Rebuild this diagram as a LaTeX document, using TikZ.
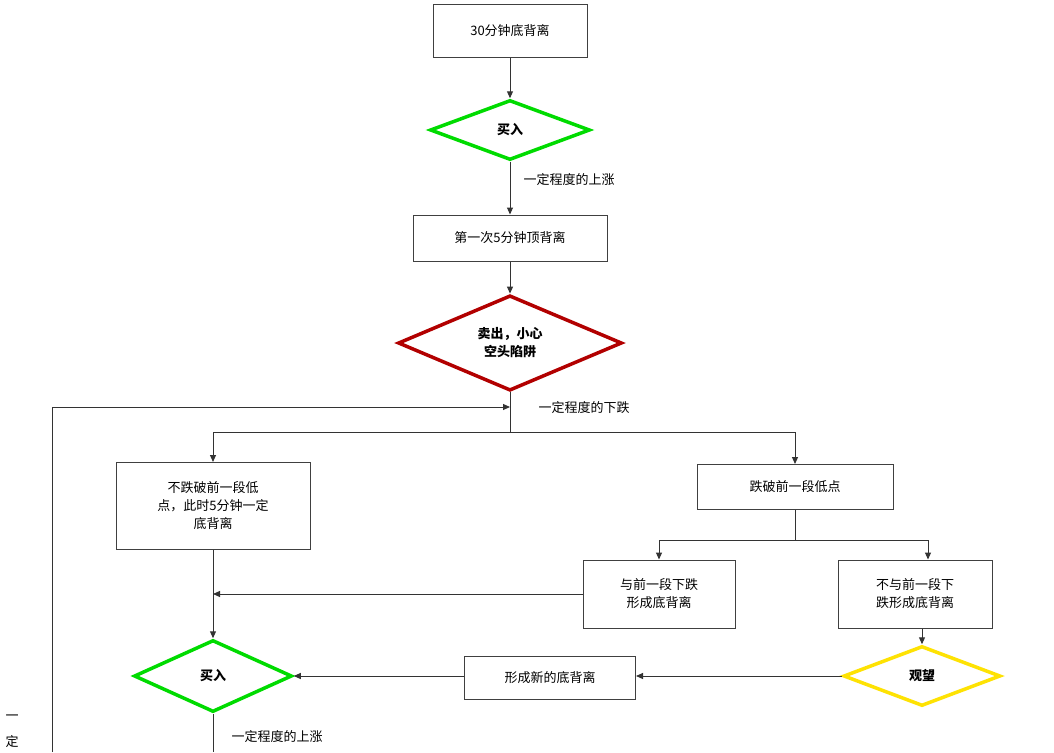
\documentclass[tikz,border=0pt]{standalone}
\usepackage{fontspec}
\setmainfont{Noto Sans CJK SC}
\usetikzlibrary{shapes.geometric,arrows.meta}
\begin{document}
\begin{tikzpicture}[x=1pt,y=-1pt,
  box/.style={draw=black!75,line width=1pt,fill=white,align=center,font=\fontsize{13}{18}\selectfont,inner sep=2pt},
  dia/.style={diamond,line width=3.5pt,fill=white,inner sep=0pt,align=center,font=\fontsize{13}{18}\selectfont\bfseries},
  lab/.style={font=\fontsize{13}{15}\selectfont,anchor=west},
  arr/.style={draw=black!80,line width=1pt,-{Triangle[length=7pt,width=6pt]}},
  ln/.style={draw=black!80,line width=1pt}]
\useasboundingbox (0,0) rectangle (1054,752);
\fill[white] (0,0) rectangle (1054,752);
\node[box,minimum width=154pt,minimum height=53pt] (b1) at (510,31) {30分钟底背离};
\node[dia,draw=green!80!black!70!green,minimum width=160pt,minimum height=60pt] (d1) at (510,130) {买入};
\node[box,minimum width=194pt,minimum height=46pt] (b2) at (510,238) {第一次5分钟顶背离};
\node[dia,draw=red!70!black,minimum width=224pt,minimum height=92pt] (d2) at (510,343) {卖出，小心\\空头陷阱};
\node[box,minimum width=194pt,minimum height=87pt] (b3) at (213,506) {不跌破前一段低\\点，此时5分钟一定\\底背离};
\node[box,minimum width=196pt,minimum height=45pt] (b4) at (795,487) {跌破前一段低点};
\node[box,minimum width=152pt,minimum height=68pt] (b5) at (659,594) {与前一段下跌\\形成底背离};
\node[box,minimum width=154pt,minimum height=68pt] (b6) at (915,594) {不与前一段下\\跌形成底背离};
\node[dia,draw=green!80!black!70!green,minimum width=158pt,minimum height=72pt] (d3) at (213,676) {买入};
\node[dia,draw=yellow!85!orange,minimum width=157pt,minimum height=60pt] (d4) at (922,676) {观望};
\node[box,minimum width=171pt,minimum height=43pt] (b7) at (550,678) {形成新的底背离};
\node[lab] (l1) at (520,180) {一定程度的上涨};
\node[lab] (l2) at (535,408) {一定程度的下跌};
\node[lab] (l3) at (228,737) {一定程度的上涨};
\node[font=\fontsize{13}{15}\selectfont] (l4) at (12,718) {一};
\node[font=\fontsize{13}{15}\selectfont] (l5) at (12,742) {定};
\coordinate (j1) at (510,432);
\coordinate (j2) at (795,540);
\coordinate (lb) at (52,752);
\coordinate (end) at (213,752);
\draw[arr] (b1) -- (d1);
\draw[arr] (d1) -- (b2);
\draw[arr] (b2) -- (d2);
\draw[ln] (d2) -- (j1);
\draw[arr] (j1) -| (b3);
\draw[arr] (j1) -| (b4);
\draw[arr] (lb) |- (510,407);
\draw[ln] (b4) -- (j2);
\draw[arr] (j2) -| (b5);
\draw[arr] (j2) -| ([xshift=13pt]b6.north);
\draw[arr] (b5.west) -- (b5.west -| b3);
\draw[arr] (b3) -- (d3);
\draw[arr] ([xshift=7pt]b6.south) -- (d4);
\draw[arr] (d4.west) -- (d4.west -| b7.east);
\draw[arr] (b7.west |- d3) -- (d3.east);
\draw[ln] (d3.south) -- (end);
\end{tikzpicture}
\end{document}
